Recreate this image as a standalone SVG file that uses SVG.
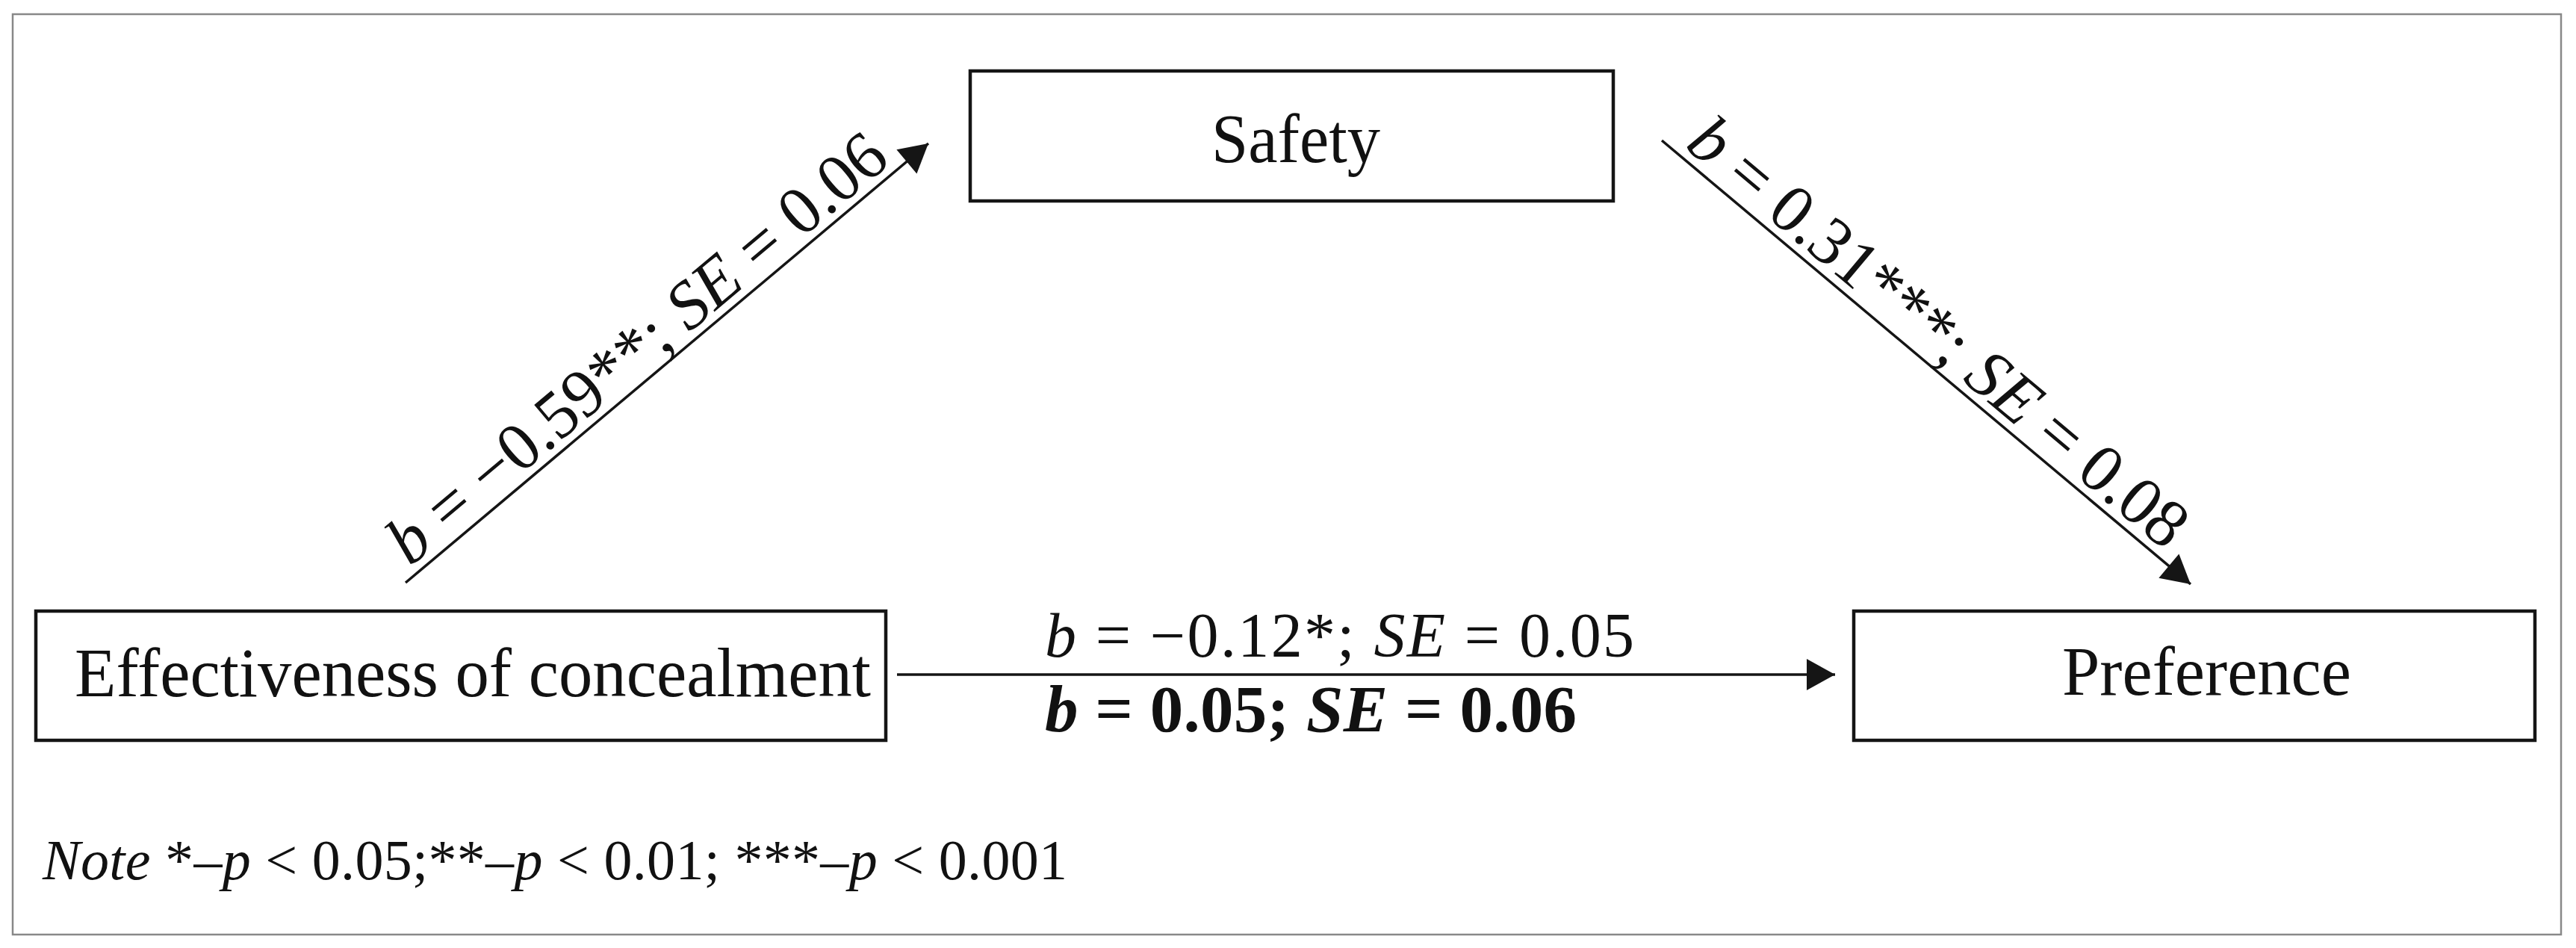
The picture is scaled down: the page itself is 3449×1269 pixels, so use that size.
<svg xmlns="http://www.w3.org/2000/svg" width="3449" height="1269" viewBox="0 0 3449 1269">
<style>
.box{fill:#fff;stroke:#151515;stroke-width:4.5}
.lbl{font-family:"Liberation Serif","Times New Roman",serif;fill:#111}
.node{font-size:93px}
.edge{stroke:#151515;stroke-width:3.5;fill:none}
.i{font-style:italic}
</style>
<defs>
<marker id="ah" markerUnits="userSpaceOnUse" markerWidth="42" markerHeight="44" refX="38" refY="21" orient="auto" overflow="visible">
<path d="M0,0 L38,21 L0,42 Z" fill="#151515"/>
</marker>
</defs>
<rect x="0" y="0" width="3449" height="1269" fill="#fff"/>
<rect x="17" y="19" width="3412" height="1232" fill="none" stroke="#888" stroke-width="2.5"/>

<g id="connectors">
<line class="edge" x1="543" y1="780" x2="1243" y2="192" marker-end="url(#ah)"/>
<line class="edge" x1="2225" y1="188" x2="2933" y2="782" marker-end="url(#ah)"/>
<line class="edge" x1="1201" y1="903" x2="2457" y2="903" stroke-width="4.5" marker-end="url(#ah)"/>
<g transform="translate(543,780) rotate(-40)">
<text class="lbl" x="18" y="-12" font-size="91" textLength="842" lengthAdjust="spacingAndGlyphs"><tspan class="i">b</tspan> = −0.59**; <tspan class="i">SE</tspan> = 0.06</text>
</g>
<g transform="translate(2225,188) rotate(40)">
<text class="lbl" x="28" y="-12" font-size="91" textLength="842" lengthAdjust="spacingAndGlyphs"><tspan class="i">b</tspan> = 0.31***; <tspan class="i">SE</tspan> = 0.08</text>
</g>
<text class="lbl" x="1399" y="879" font-size="84" textLength="789" lengthAdjust="spacing"><tspan class="i">b</tspan> = −0.12*; <tspan class="i">SE</tspan> = 0.05</text>
<text class="lbl" x="1399" y="979" font-size="89" font-weight="bold" textLength="712" lengthAdjust="spacing"><tspan class="i">b</tspan> = 0.05; <tspan class="i">SE</tspan> = 0.06</text>
</g>

<g id="node-effectiveness">
<rect class="box" x="48" y="818" width="1138" height="173"/>
<text class="lbl node" x="100" y="932" textLength="1066" lengthAdjust="spacingAndGlyphs">Effectiveness of concealment</text>
</g>
<g id="node-safety">
<rect class="box" x="1299" y="95" width="861" height="174"/>
<text class="lbl node" x="1622" y="217" textLength="226" lengthAdjust="spacingAndGlyphs">Safety</text>
</g>
<g id="node-preference">
<rect class="box" x="2482" y="818" width="912" height="173"/>
<text class="lbl node" x="2761" y="930" textLength="387" lengthAdjust="spacingAndGlyphs">Preference</text>
</g>

<text class="lbl" x="57" y="1177" font-size="76" textLength="1372" lengthAdjust="spacing"><tspan class="i">Note</tspan> *–<tspan class="i">p</tspan> &lt; 0.05;**–<tspan class="i">p</tspan> &lt; 0.01; ***–<tspan class="i">p</tspan> &lt; 0.001</text>
</svg>
